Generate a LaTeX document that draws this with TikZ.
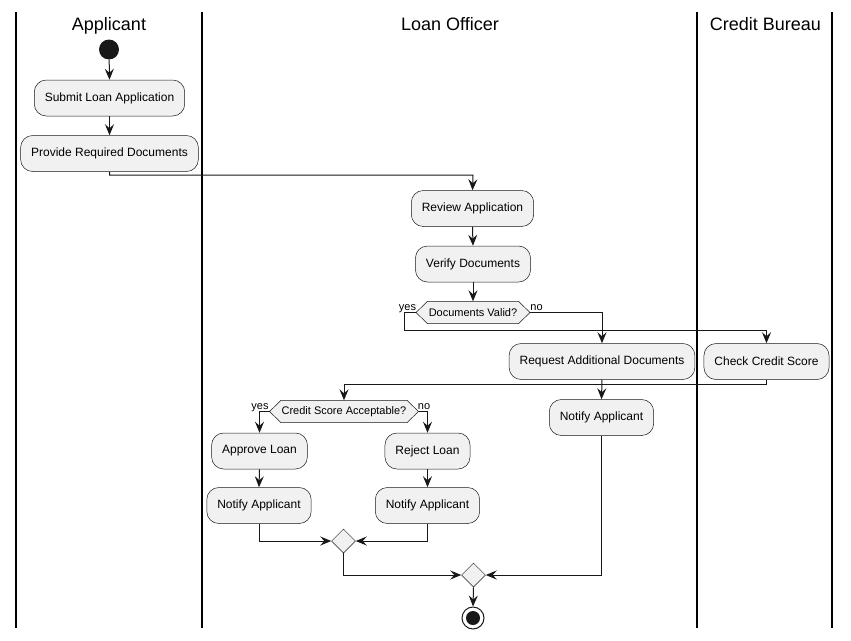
\documentclass[tikz,border=0pt]{standalone}
\usepackage{fontspec}
\setmainfont{Liberation Sans}
\usetikzlibrary{shapes.geometric,arrows.meta,calc}
\definecolor{boxfill}{HTML}{F1F1F1}
\definecolor{ink}{HTML}{181818}
\begin{document}
\begin{tikzpicture}[x=1pt,y=-1pt,
  lane/.style={draw=black,line width=1.1pt},
  lanetitle/.style={font=\fontsize{18}{21}\selectfont,anchor=base,inner sep=0},
  actbox/.style={draw=ink,fill=boxfill,line width=0.5pt,rounded corners=12pt,
    minimum height=36pt,inner xsep=10.5pt,font=\fontsize{12}{14}\selectfont},
  dectext/.style={inner xsep=0pt,minimum height=22pt,font=\fontsize{11}{13}\selectfont},
  decshape/.style={draw=ink,fill=boxfill,line width=0.5pt},
  mergebox/.style={diamond,draw=ink,fill=boxfill,line width=0.5pt,inner sep=0pt,
    minimum width=24pt,minimum height=24pt},
  guard/.style={font=\fontsize{11}{13}\selectfont,anchor=base,inner sep=0},
  arr/.style={draw=ink,line width=1pt,-{Stealth[length=11pt,width=9pt,inset=4pt]}}
]
\useasboundingbox (0,0) rectangle (851,640);
% swimlanes
\draw[lane] (16,12) -- (16,628);
\draw[lane] (202,12) -- (202,628);
\draw[lane] (697,12) -- (697,628);
\draw[lane] (832,12) -- (832,628);
\node[lanetitle] (tA) at (109,30.5) {Applicant};
\node[lanetitle] (tL) at (450,30.5) {Loan Officer};
\node[lanetitle] (tC) at (765.5,30.5) {Credit Bureau};
% start
\node[circle,fill=ink,minimum size=20pt,inner sep=0] (start) at (109,49.5) {};
% activities
\node[actbox] (sub) at (109.5,98) {Submit Loan Application};
\node[actbox] (prov) at (109.5,153.5) {Provide Required Documents};
\node[actbox] (rev) at (472.5,208.5) {Review Application};
\node[actbox] (ver) at (473,264) {Verify Documents};
\node[actbox] (req) at (602,361.5) {Request Additional Documents};
\node[actbox] (chk) at (766.5,361.5) {Check Credit Score};
\node[actbox] (ntf3) at (601.5,417.5) {Notify Applicant};
\node[actbox] (appr) at (259.5,451) {Approve Loan};
\node[actbox] (rej) at (427.5,451) {Reject Loan};
\node[actbox] (ntf1) at (259,505.5) {Notify Applicant};
\node[actbox] (ntf2) at (427.5,505.5) {Notify Applicant};
% decisions (hexagons)
\node[dectext] (dv) at (473,312.5) {};
\draw[decshape] ($(dv.north)+(-45.5,0)$) coordinate (dvNW) -- ($(dv.north)+(45.5,0)$) coordinate (dvNE)
  -- ($(dv.center)+(57,0)$) coordinate (dvR) -- ($(dv.south)+(45.5,0)$) -- ($(dv.south)+(-45.5,0)$)
  -- ($(dv.center)+(-57,0)$) coordinate (dvL) -- cycle;
\node[dectext] (dvt) at (473,312.5) {Documents Valid?};
\node[dectext] (cs) at (344,411.5) {};
\draw[decshape] ($(cs.north)+(-63,0)$) -- ($(cs.north)+(63,0)$)
  -- ($(cs.center)+(74.5,0)$) coordinate (csR) -- ($(cs.south)+(63,0)$) -- ($(cs.south)+(-63,0)$)
  -- ($(cs.center)+(-74.5,0)$) coordinate (csL) -- cycle;
\node[dectext] (cst) at (344,411.5) {Credit Score Acceptable?};
% merges
\node[mergebox] (m1) at (343.5,541) {};
\node[mergebox] (m2) at (473.5,575) {};
% end
\node[circle,draw=ink,line width=1pt,fill=white,minimum size=22pt,inner sep=0] (stop) at (473,618) {};
\node[circle,fill=ink,minimum size=14pt,inner sep=0] (stopin) at (473,618) {};
% guards
\node[guard] (gy1) at (407.5,310) {yes};
\node[guard] (gn1) at (536.5,310) {no};
\node[guard] (gy2) at (260,409) {yes};
\node[guard] (gn2) at (424,409) {no};
% bend coordinates
\coordinate (b1) at (473,175);
\coordinate (b2) at (404,330);
\coordinate (b3) at (344,384);
% connectors
\draw[arr] (start) -- (sub.north);
\draw[arr] (sub.south) -- (prov.north);
\draw[arr] (prov.south) |- (b1) -- (rev.north);
\draw[arr] (rev.south) -- (ver.north);
\draw[arr] (ver.south) -- (dv.north);
\draw[arr] (dvL) -| (b2) -| (chk.north);
\draw[arr] (dvR) -| (req.north);
\draw[arr] (req.south) -- (ntf3.north);
\draw[arr] (chk.south) |- (b3) -- (cs.north);
\draw[arr] (csL) -| (appr.north);
\draw[arr] (csR) -| (rej.north);
\draw[arr] (appr.south) -- (ntf1.north);
\draw[arr] (rej.south) -- (ntf2.north);
\draw[arr] (ntf1.south) |- (m1.west);
\draw[arr] (ntf2.south) |- (m1.east);
\draw[arr] (m1.south) |- (m2.west);
\draw[arr] (ntf3.south) |- (m2.east);
\draw[arr] (m2.south) -- (stop.north);
\end{tikzpicture}
\end{document}
